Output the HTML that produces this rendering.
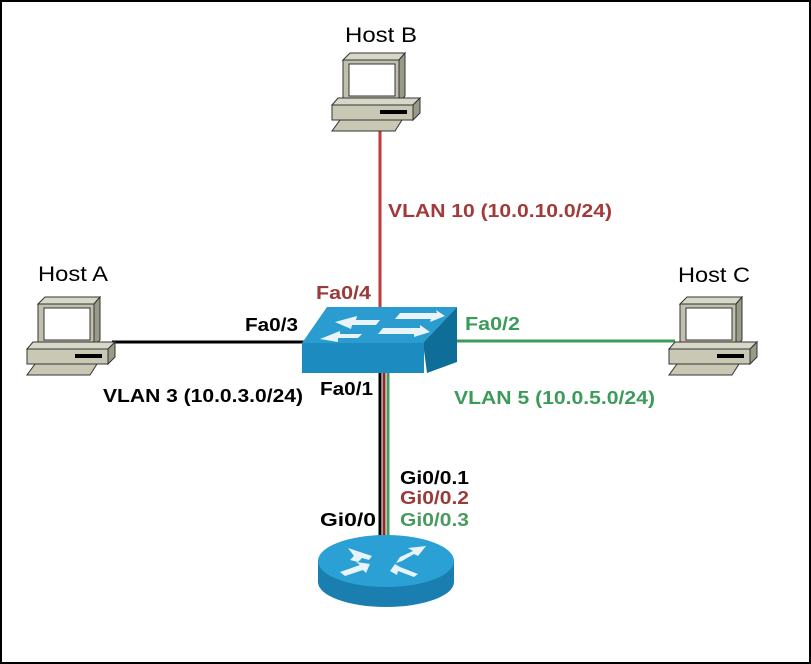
<!DOCTYPE html>
<html><head><style>
html,body{margin:0;padding:0;background:#fff}
svg{display:block}
text{font-family:"Liberation Sans",Arial,sans-serif}
</style></head><body>
<svg width="811" height="664" viewBox="0 0 811 664" xmlns="http://www.w3.org/2000/svg">
<defs>
<g id="pc" stroke="#333" stroke-width="1">
  <polygon points="18,12 25,5 80,5 74,12" fill="#d8d8c8"/>
  <polygon points="74,12 80,5 80,48 74,55" fill="#9a9a88"/>
  <rect x="18" y="12" width="56" height="43" fill="#c0c0ac"/>
  <rect x="24" y="16" width="46" height="32" fill="#fff"/>
  <polygon points="13,50 95,50 88,57 7,57" fill="#d8d8c8"/>
  <polygon points="88,57 95,50 95,65 88,72" fill="#9a9a88"/>
  <rect x="7" y="57" width="81" height="15" fill="#c8c8b4"/>
  <rect x="55" y="62" width="27" height="4" fill="#000" stroke="none"/>
  <polygon points="15,72 77,72 70,83 7,83" fill="#c8c8b4"/>
</g>
</defs>
<rect x="1" y="1" width="809" height="662" fill="#fff" stroke="#000" stroke-width="2"/>
<line x1="380" y1="128" x2="380" y2="310" stroke="#c0393b" stroke-width="3"/>
<line x1="112" y1="342" x2="305" y2="342" stroke="#000" stroke-width="3"/>
<line x1="455" y1="341" x2="675" y2="341" stroke="#3d9b5a" stroke-width="3"/>
<line x1="380" y1="370" x2="380" y2="540" stroke="#000" stroke-width="3"/>
<line x1="384" y1="370" x2="384" y2="540" stroke="#8a2a2a" stroke-width="3"/>
<line x1="388" y1="370" x2="388" y2="540" stroke="#4a9a5e" stroke-width="3"/>
<use href="#pc" x="20" y="292"/>
<use href="#pc" x="325" y="48"/>
<use href="#pc" x="662" y="292"/>
<polygon points="327,307 457,307 423,343 302,343" fill="#2a9ccf"/>
<polygon points="423,343 457,307 457,362 427,373" fill="#0f6e98"/>
<rect x="302" y="343" width="122" height="30" fill="#1b8bc0"/>
<g fill="#e8f4fa">
<polygon points="335,322 357,316 356,320 380,320 376,325 352,325 351,329"/>
<polygon points="400,313 437,313 436,310 445,316 430,322 431,319 395,319"/>
<polygon points="320,339 340,331 340,334 362,334 358,338 338,338 338,342"/>
<polygon points="383,328 420,328 420,325 430,332 414,337 414,334 378,334"/>
</g>
<path d="M318,561 L318,582 A68,25 0 0 0 454,582 L454,561 Z" fill="#1a7fb0"/>
<ellipse cx="386" cy="561" rx="68" ry="26" fill="#2aa0d4"/>
<g fill="#e8f4fa">
<polygon points="348,548 372,556 369,560 362,558 358,562 350,560 354,556"/>
<polygon points="396,563 400,557 413,551 408,548 426,546 418,556 414,554 402,561"/>
<polygon points="340,572 360,565 356,562 370,564 366,573 363,570 345,576"/>
<polygon points="390,571 395,564 400,567 418,574 414,577 398,571 397,575"/>
</g>
<g font-size="21" fill="#000">
<text x="345" y="42" textLength="72" lengthAdjust="spacingAndGlyphs">Host B</text>
<text x="38" y="281" textLength="70" lengthAdjust="spacingAndGlyphs">Host A</text>
<text x="678" y="282" textLength="72" lengthAdjust="spacingAndGlyphs">Host C</text>
</g>
<g font-size="18" font-weight="bold" lengthAdjust="spacingAndGlyphs">
<text x="388" y="217" fill="#a33a3a" textLength="224" lengthAdjust="spacingAndGlyphs">VLAN 10 (10.0.10.0/24)</text>
<text x="316" y="299" fill="#9a3a3a" textLength="55" lengthAdjust="spacingAndGlyphs">Fa0/4</text>
<text x="245" y="331" fill="#000" textLength="53" lengthAdjust="spacingAndGlyphs">Fa0/3</text>
<text x="465" y="330" fill="#3d9b5a" textLength="55" lengthAdjust="spacingAndGlyphs">Fa0/2</text>
<text x="103" y="402" fill="#000" textLength="200" lengthAdjust="spacingAndGlyphs">VLAN 3 (10.0.3.0/24)</text>
<text x="320" y="395" fill="#000" textLength="53" lengthAdjust="spacingAndGlyphs">Fa0/1</text>
<text x="454" y="404" fill="#3d9b5a" textLength="201" lengthAdjust="spacingAndGlyphs">VLAN 5 (10.0.5.0/24)</text>
<text x="400" y="484" fill="#000" textLength="69" lengthAdjust="spacingAndGlyphs">Gi0/0.1</text>
<text x="400" y="504" fill="#9a3a3a" textLength="69" lengthAdjust="spacingAndGlyphs">Gi0/0.2</text>
<text x="400" y="526" fill="#4a9a5e" textLength="69" lengthAdjust="spacingAndGlyphs">Gi0/0.3</text>
<text x="320" y="526" fill="#000" textLength="56" lengthAdjust="spacingAndGlyphs">Gi0/0</text>
</g>
</svg>
</body></html>
